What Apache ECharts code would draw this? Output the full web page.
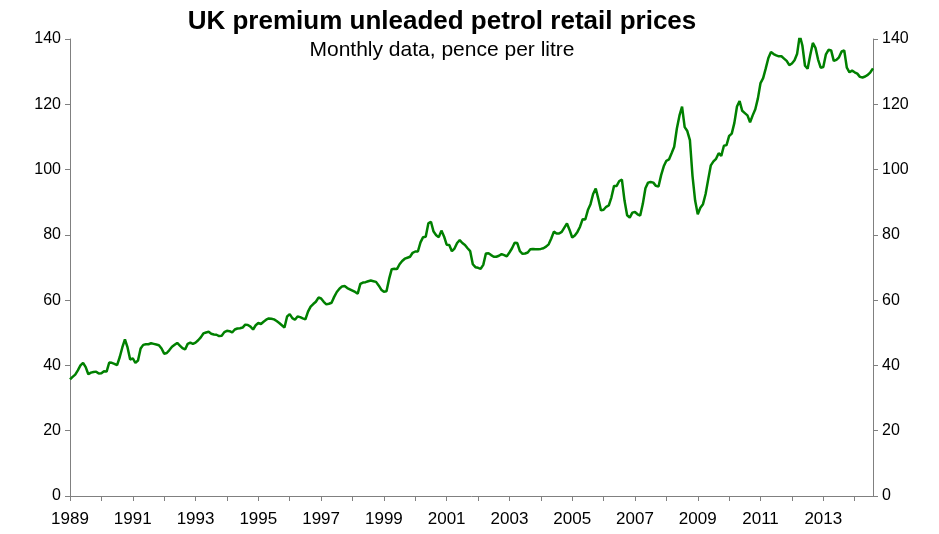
<!DOCTYPE html>
<html>
<head>
<meta charset="utf-8">
<script src="https://cdn.jsdelivr.net/npm/echarts@6/dist/echarts.min.js"></script>
<style>
  html, body { margin: 0; padding: 0; background: #fff; }
  #chart { width: 939px; height: 534px; }
</style>
</head>
<body>
<div id="chart"></div>
<script>
// Monthly UK premium unleaded petrol retail price, pence per litre, Jan 1989 onwards
const startYear = 1989;
const prices = [
  35.7, 36.5, 37.2, 38.5, 40.0, 40.8, 39.5, 37.3, 37.8, 38.0, 38.1, 37.5,
  37.6, 38.2, 38.1, 40.9, 40.8, 40.5, 40.1, 42.5, 45.5, 48.0, 45.5, 41.8,
  42.2, 40.8, 41.5, 45.2, 46.3, 46.5, 46.5, 46.8, 46.6, 46.4, 46.2, 45.2,
  43.6, 43.8, 44.7, 45.7, 46.3, 46.9, 46.1, 45.3, 44.9, 46.6, 47.0, 46.6,
  47.0, 47.7, 48.6, 49.8, 50.1, 50.3, 49.7, 49.5, 49.4, 49.0, 49.1, 50.2,
  50.6, 50.5, 50.1, 51.0, 51.3, 51.4, 51.6, 52.5, 52.4, 51.9, 51.0, 52.3,
  53.0, 52.7, 53.4, 54.0, 54.4, 54.3, 54.1, 53.6, 53.0, 52.3, 51.6, 55.0,
  55.7, 54.5, 54.0, 55.0, 54.8, 54.4, 54.1, 56.5, 58.0, 58.8, 59.5, 60.8,
  60.5, 59.5, 58.7, 58.9, 59.2, 61.0, 62.5, 63.5, 64.2, 64.3, 63.7, 63.3,
  62.9, 62.5, 62.0, 65.0, 65.4, 65.5, 65.8, 66.0, 65.8, 65.6, 64.5, 63.2,
  62.6, 62.7, 66.5, 69.5, 69.6, 69.5, 71.0, 72.0, 72.7, 73.0, 73.3, 74.5,
  74.9, 74.9, 77.7, 79.3, 79.4, 83.5, 84.0, 81.0, 79.9, 79.3, 81.3, 79.5,
  77.0, 76.9, 75.0, 75.8, 77.5, 78.4, 77.5, 76.9, 75.9, 75.0, 71.0, 70.1,
  69.9, 69.6, 70.8, 74.3, 74.4, 73.8, 73.3, 73.3, 73.6, 74.1, 73.8, 73.4,
  74.6, 75.9, 77.6, 77.5, 75.0, 74.2, 74.3, 74.6, 75.6, 75.7, 75.6, 75.6,
  75.7, 75.9, 76.4, 77.1, 78.9, 81.0, 80.4, 80.4, 80.9, 82.2, 83.5, 81.5,
  79.2, 79.8, 80.9, 82.5, 84.8, 84.7, 87.6, 89.4, 92.5, 94.2, 91.0, 87.5,
  87.7, 88.6, 89.0, 91.5, 95.0, 95.0, 96.5, 96.9, 90.5, 86.0, 85.3, 86.8,
  87.0, 86.3, 85.9, 89.5, 94.3, 96.0, 96.2, 96.0, 95.0, 94.8, 98.3, 101.0,
  102.7, 103.1, 105.0, 107.0, 112.5, 116.5, 119.3, 113.0, 111.8, 109.0, 98.0, 90.5,
  86.3, 88.3, 89.4, 92.5, 97.0, 101.3, 102.5, 103.3, 105.0, 104.2, 107.3, 107.5,
  110.3, 111.0, 114.3, 119.3, 121.0, 118.0, 117.3, 116.6, 114.5, 116.6, 118.5, 121.8,
  126.5, 128.0, 131.0, 134.2, 136.0, 135.4, 135.0, 134.7, 134.7, 134.0, 133.3, 132.0,
  132.5, 133.5, 135.5, 141.1, 138.0, 131.8, 130.9, 135.0, 138.8, 137.3, 133.7, 131.2,
  131.4, 135.3, 136.7, 136.5, 133.3, 133.6, 134.4, 136.2, 136.5, 131.2, 129.8, 130.3,
  129.8, 129.4, 128.4, 128.2, 128.5, 129.0, 129.8, 131.0
];

// Month labels "YYYY-MM" for each price
const months = prices.map((_, i) => {
  const y = startYear + Math.floor(i / 12);
  const m = (i % 12) + 1;
  return y + '-' + (m < 10 ? '0' + m : m);
});

const yTicks = { min: 0, max: 140, interval: 20 };

const font = 'Liberation Sans, Arial, sans-serif';
const axisColor = '#808080';

const chart = echarts.init(document.getElementById('chart'), null, { renderer: 'canvas' });

const yAxisBase = {
  type: 'value',
  min: yTicks.min,
  max: yTicks.max,
  interval: yTicks.interval,
  axisLine: { show: true, lineStyle: { color: axisColor, width: 1 } },
  axisTick: { show: true, length: 5, lineStyle: { color: axisColor } },
  splitLine: { show: false },
  axisLabel: { color: '#000', fontSize: 16, fontFamily: font, margin: 9 }
};

chart.setOption({
  animation: false,
  backgroundColor: '#fff',
  title: [
    {
      text: 'UK premium unleaded petrol retail prices',
      left: 437, top: 4, textAlign: 'center',
      textStyle: { fontSize: 26, fontWeight: 'bold', color: '#000', fontFamily: font }
    },
    {
      text: 'Monthly data, pence per litre',
      left: 437, top: 35, textAlign: 'center',
      textStyle: { fontSize: 21, fontWeight: 'normal', color: '#000', fontFamily: font }
    }
  ],
  grid: { left: 70, right: 66, top: 39, bottom: 38, containLabel: false },
  xAxis: {
    type: 'category',
    data: months,
    boundaryGap: false,
    axisLine: { show: true, lineStyle: { color: axisColor, width: 1 } },
    axisTick: {
      show: true, length: 5, lineStyle: { color: axisColor },
      interval: (idx) => idx % 12 === 0
    },
    axisLabel: {
      color: '#000', fontSize: 17, fontFamily: font, margin: 15,
      interval: (idx) => idx % 24 === 0,
      formatter: (v) => v.slice(0, 4)
    },
    splitLine: { show: false }
  },
  yAxis: [
    Object.assign({}, yAxisBase, { position: 'left' }),
    Object.assign({}, yAxisBase, { position: 'right' })
  ],
  series: [{
    type: 'line',
    data: prices,
    yAxisIndex: 0,
    symbol: 'none',
    smooth: false,
    lineStyle: { color: '#008000', width: 2.5 },
    itemStyle: { color: '#008000' }
  }]
});
</script>
</body>
</html>
